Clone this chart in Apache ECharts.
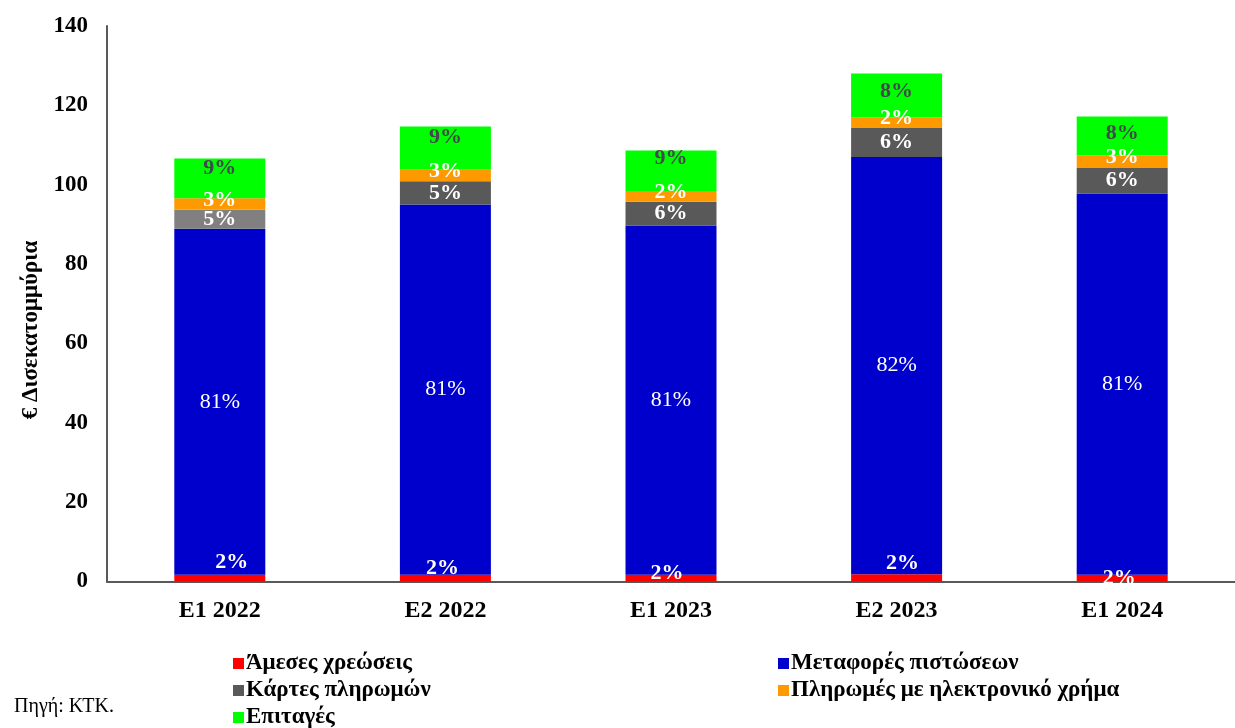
<!DOCTYPE html>
<html>
<head>
<meta charset="utf-8">
<script src="https://cdn.jsdelivr.net/npm/echarts@6/dist/echarts.min.js"></script>
<style>
  html, body { margin: 0; padding: 0; background: #ffffff; }
  #chart { width: 1235px; height: 728px; }
</style>
</head>
<body>
<div id="chart"></div>
<script>
// Payment volumes per half-year, € billions
const categories = ['Ε1 2022', 'Ε2 2022', 'Ε1 2023', 'Ε2 2023', 'Ε1 2024'];
const directDebits = [1.7, 1.7, 1.7, 1.8, 1.7];
const creditTransfers = [87.2, 93.3, 88.0, 105.2, 96.1];
const paymentCards = [4.8, 5.9, 6.0, 7.3, 6.4];
const eMoney = [2.9, 2.9, 2.7, 2.7, 3.2];
const cheques = [10.0, 10.9, 10.2, 11.0, 9.8];

// Share of each instrument in the half-year total, as printed
const directPct = ['2%', '2%', '2%', '2%', '2%'];
const creditPct = ['81%', '81%', '81%', '82%', '81%'];
const cardsPct = ['5%', '5%', '6%', '6%', '6%'];
const eMoneyPct = ['3%', '3%', '2%', '2%', '3%'];
const chequesPct = ['9%', '9%', '9%', '8%', '8%'];

const yTicks = [0, 20, 40, 60, 80, 100, 120, 140];

const SERIF = '"Liberation Serif", "DejaVu Serif", serif';

// Small label nudges (px) so the percentages sit where they read best
const directLabelNudge = [[12, 4], [-3, 10], [-4, 15], [6, 5], [-3, 20]];
const chequesLabelNudge = [-10, -11, -13, -4, -3];

const chart = echarts.init(document.getElementById('chart'));

function pctLabel(arr, color, weight, extra) {
  return Object.assign({
    show: true,
    position: 'inside',
    formatter: p => arr[p.dataIndex],
    color: color,
    fontFamily: SERIF,
    fontWeight: weight,
    fontSize: 22
  }, extra || {});
}

const legendText = { color: '#000', fontFamily: SERIF, fontWeight: 'bold', fontSize: 23, padding: [0, 0, 0, -3] };

const option = {
  backgroundColor: '#ffffff',
  animation: false,
  grid: { left: 107, top: 26, bottom: 146.5, width: 1130 },
  xAxis: {
    type: 'category',
    data: categories,
    axisLine: { lineStyle: { color: '#595959', width: 2 } },
    axisTick: { show: false },
    axisLabel: { color: '#000', fontFamily: SERIF, fontWeight: 'bold', fontSize: 24, margin: 17 }
  },
  yAxis: {
    type: 'value',
    min: yTicks[0],
    max: yTicks[yTicks.length - 1],
    interval: yTicks[1] - yTicks[0],
    axisLine: { show: true, lineStyle: { color: '#595959', width: 2 } },
    axisTick: { show: false },
    splitLine: { show: false },
    axisLabel: { color: '#000', fontFamily: SERIF, fontWeight: 'bold', fontSize: 23, margin: 19 }
  },
  legend: [
    {
      orient: 'vertical',
      left: 233,
      top: 652,
      height: 90,
      padding: 0,
      itemWidth: 11,
      itemHeight: 11,
      itemGap: 4,
      icon: 'rect',
      data: ['Άμεσες χρεώσεις', 'Κάρτες πληρωμών', 'Επιταγές'],
      textStyle: legendText
    },
    {
      orient: 'vertical',
      left: 778,
      top: 652,
      height: 90,
      padding: 0,
      itemWidth: 11,
      itemHeight: 11,
      itemGap: 4,
      icon: 'rect',
      data: ['Μεταφορές πιστώσεων', 'Πληρωμές με ηλεκτρονικό χρήμα'],
      textStyle: legendText
    }
  ],
  graphic: [
    {
      type: 'text',
      left: 14,
      top: 697,
      style: { text: 'Πηγή: ΚΤΚ.', fill: '#000', font: '20px ' + SERIF }
    },
    {
      type: 'text',
      x: 31,
      y: 330,
      rotation: Math.PI / 2,
      style: {
        text: '€ Δισεκατομμύρια',
        fill: '#000',
        font: 'bold 23px ' + SERIF,
        align: 'center',
        verticalAlign: 'middle'
      }
    }
  ],
  series: [
    {
      name: 'Άμεσες χρεώσεις',
      type: 'bar',
      stack: 'total',
      barWidth: 91,
      itemStyle: { color: '#ff0000' },
      data: directDebits.map((v, i) => ({
        value: v,
        label: {
          show: true,
          position: 'top',
          offset: directLabelNudge[i],
          formatter: directPct[i],
          color: '#ffffff',
          fontFamily: SERIF,
          fontWeight: 'bold',
          fontSize: 22
        }
      }))
    },
    {
      name: 'Μεταφορές πιστώσεων',
      type: 'bar',
      stack: 'total',
      itemStyle: { color: '#0000cc' },
      label: pctLabel(creditPct, '#ffffff', 'normal'),
      data: creditTransfers
    },
    {
      name: 'Κάρτες πληρωμών',
      type: 'bar',
      stack: 'total',
      itemStyle: { color: '#595959' },
      label: pctLabel(cardsPct, '#ffffff', 'bold'),
      data: paymentCards.map((v, i) => i === 0 ? { value: v, itemStyle: { color: '#808080' } } : v)
    },
    {
      name: 'Πληρωμές με ηλεκτρονικό χρήμα',
      type: 'bar',
      stack: 'total',
      itemStyle: { color: '#ff9900' },
      label: pctLabel(eMoneyPct, '#ffffff', 'bold', { offset: [0, -4] }),
      data: eMoney
    },
    {
      name: 'Επιταγές',
      type: 'bar',
      stack: 'total',
      itemStyle: { color: '#00ff00' },
      data: cheques.map((v, i) => ({
        value: v,
        label: pctLabel(chequesPct, '#404a4a', 'bold', { offset: [0, chequesLabelNudge[i]] })
      }))
    }
  ]
};

chart.setOption(option);
</script>
</body>
</html>
